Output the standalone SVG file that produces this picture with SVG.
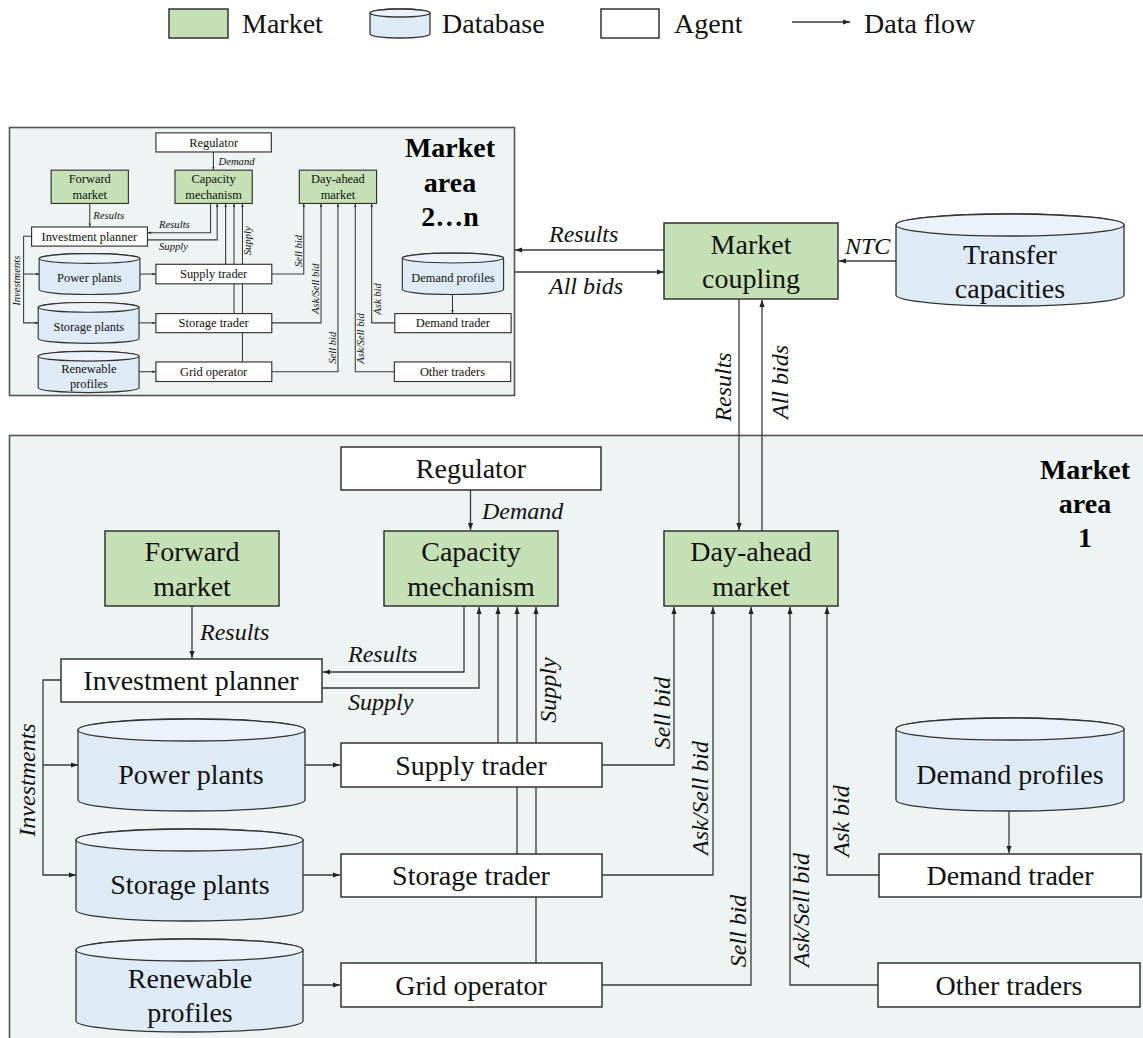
<svg xmlns="http://www.w3.org/2000/svg" xmlns:xlink="http://www.w3.org/1999/xlink" width="1143" height="1038" viewBox="0 0 1143 1038">
<style>
.box{fill:#fff;stroke:#333;stroke-width:var(--bw,1.5)}
.mkt{fill:#C5E0B4;stroke:#333;stroke-width:var(--bw,1.5)}
.db{fill:#DEEBF7;stroke:#333;stroke-width:var(--bw,1.3)}
.dbt{fill:#EBF2FA;stroke:#333;stroke-width:var(--bw,1.3)}
.ln{fill:none;stroke:#3a3a3a;stroke-width:var(--lw,1.3)}
.panel{fill:#EEF3F3;stroke:#555;stroke-width:1.6}
.t{font-family:"Liberation Serif","Times New Roman",serif;font-size:28px;fill:#111;text-anchor:middle}
.tl{font-family:"Liberation Serif","Times New Roman",serif;font-size:28px;fill:#111}
.lb{font-family:"Liberation Serif","Times New Roman",serif;font-size:24px;font-style:italic;fill:#111}
.lr{font-family:"Liberation Serif","Times New Roman",serif;font-size:24px;font-style:italic;fill:#111;text-anchor:middle}
.hd{font-family:"Liberation Serif","Times New Roman",serif;font-size:28px;font-weight:bold;fill:#000;text-anchor:middle}
</style>
<defs>
<marker id="ah" markerUnits="userSpaceOnUse" markerWidth="8" markerHeight="6" refX="7" refY="3" orient="auto">
<path d="M0,0.4 L7,3 L0,5.6 Z" fill="#222"/>
</marker>
</defs>

<g id="legend">
<rect class="mkt" x="169" y="9" width="59" height="29"/>
<text class="tl" x="242" y="33">Market</text>
<path class="db" d="M370,13 A30,4 0 0 1 430,13 V34 A30,4 0 0 1 370,34 Z"/>
<ellipse class="dbt" cx="400" cy="13" rx="30" ry="4"/>
<text class="tl" x="442" y="33">Database</text>
<rect class="box" x="601" y="9" width="58" height="29"/>
<text class="tl" x="674" y="33">Agent</text>
<path class="ln" d="M792,22 H850" marker-end="url(#ah)"/>
<text class="tl" x="864" y="33">Data flow</text>
</g>

<rect id="panel-2n" class="panel" x="9.5" y="127.5" width="505" height="268"/>
<rect id="panel-1" class="panel" x="9.5" y="435.5" width="1145" height="620"/>
<g id="label-2n"><text class="hd" x="450" y="157">Market</text><text class="hd" x="450" y="192">area</text><text class="hd" x="450" y="226">2…n</text></g>
<g id="label-1"><text class="hd" x="1085" y="479">Market</text><text class="hd" x="1085" y="513">area</text><text class="hd" x="1085" y="547">1</text></g>

<g id="connectors">
<path class="ln" d="M664,250 H515" marker-end="url(#ah)"/>
<path class="ln" d="M515,272 H664" marker-end="url(#ah)"/>
<path class="ln" d="M896,261 H839" marker-end="url(#ah)"/>
<path class="ln" d="M739,299 V530" marker-end="url(#ah)"/>
<path class="ln" d="M762,531 V300" marker-end="url(#ah)"/>
<text class="lb" x="549" y="242">Results</text>
<text class="lb" x="549" y="294">All bids</text>
<text class="lb" x="845" y="254">NTC</text>
<text class="lr" transform="translate(731,387) rotate(-90)">Results</text>
<text class="lr" transform="translate(788,382) rotate(-90)">All bids</text>
</g>

<g id="market-coupling"><rect class="mkt" x="664" y="223" width="174" height="76"/><text class="t" x="751" y="254">Market</text><text class="t" x="751" y="288">coupling</text></g>
<g id="transfer-capacities"><path class="db" d="M896,225 A114,11 0 0 1 1124,225 V295 A114,11 0 0 1 896,295 Z"/><ellipse class="dbt" cx="1010" cy="225" rx="114" ry="11"/><text class="t" x="1010" y="264">Transfer</text><text class="t" x="1010" y="298">capacities</text></g>

<g id="area">
<g id="area-connectors">
<path class="ln" d="M470.5,490 V530" marker-end="url(#ah)"/>
<path class="ln" d="M192,606 V658" marker-end="url(#ah)"/>
<path class="ln" d="M464,606 V672 H323" marker-end="url(#ah)"/>
<path class="ln" d="M322,688 H479 V607" marker-end="url(#ah)"/>
<path class="ln" d="M498,743 V607" marker-end="url(#ah)"/>
<path class="ln" d="M517,854 V607" marker-end="url(#ah)"/>
<path class="ln" d="M536,963 V607" marker-end="url(#ah)"/>
<path class="ln" d="M61,680 H43 V875 H76" marker-end="url(#ah)"/>
<path class="ln" d="M43,765 H78" marker-end="url(#ah)"/>
<path class="ln" d="M305,765 H340" marker-end="url(#ah)"/>
<path class="ln" d="M303,875 H340" marker-end="url(#ah)"/>
<path class="ln" d="M303,985 H340" marker-end="url(#ah)"/>
<path class="ln" d="M602,765 H674 V607" marker-end="url(#ah)"/>
<path class="ln" d="M602,875 H713 V607" marker-end="url(#ah)"/>
<path class="ln" d="M602,985 H751 V607" marker-end="url(#ah)"/>
<path class="ln" d="M878,985 H790 V607" marker-end="url(#ah)"/>
<path class="ln" d="M879,875 H827 V607" marker-end="url(#ah)"/>
<path class="ln" d="M1009,811 V853" marker-end="url(#ah)"/>
<text class="lb" x="482" y="519">Demand</text>
<text class="lb" x="200" y="640">Results</text>
<text class="lb" x="348" y="662">Results</text>
<text class="lb" x="348" y="710">Supply</text>
<text class="lr" transform="translate(35,780) rotate(-90)">Investments</text>
<text class="lr" transform="translate(556,690) rotate(-90)">Supply</text>
<text class="lr" transform="translate(670,713) rotate(-90)">Sell bid</text>
<text class="lr" transform="translate(708,798) rotate(-90)">Ask/Sell bid</text>
<text class="lr" transform="translate(746,931) rotate(-90)">Sell bid</text>
<text class="lr" transform="translate(809,910) rotate(-90)">Ask/Sell bid</text>
<text class="lr" transform="translate(849,821) rotate(-90)">Ask bid</text>
</g>
<g id="regulator"><rect class="box" x="341" y="447" width="260" height="43"/><text class="t" x="471" y="478">Regulator</text></g>
<g id="forward-market"><rect class="mkt" x="105" y="531" width="174" height="75"/><text class="t" x="192" y="561">Forward</text><text class="t" x="192" y="596">market</text></g>
<g id="capacity-mechanism"><rect class="mkt" x="384" y="531" width="174" height="75"/><text class="t" x="471" y="561">Capacity</text><text class="t" x="471" y="596">mechanism</text></g>
<g id="day-ahead-market"><rect class="mkt" x="664" y="531" width="174" height="75"/><text class="t" x="751" y="561">Day-ahead</text><text class="t" x="751" y="596">market</text></g>
<g id="investment-planner"><rect class="box" x="61" y="659" width="261" height="43"/><text class="t" x="191" y="690">Investment planner</text></g>
<g id="power-plants"><path class="db" d="M78,730 A113.5,11 0 0 1 305,730 V800 A113.5,11 0 0 1 78,800 Z"/><ellipse class="dbt" cx="191.5" cy="730" rx="113.5" ry="11"/><text class="t" x="191" y="784">Power plants</text></g>
<g id="storage-plants"><path class="db" d="M76,840 A113.5,11 0 0 1 303,840 V910 A113.5,11 0 0 1 76,910 Z"/><ellipse class="dbt" cx="189.5" cy="840" rx="113.5" ry="11"/><text class="t" x="190" y="894">Storage plants</text></g>
<g id="renewable-profiles"><path class="db" d="M76,950 A113.5,11 0 0 1 303,950 V1021 A113.5,11 0 0 1 76,1021 Z"/><ellipse class="dbt" cx="189.5" cy="950" rx="113.5" ry="11"/><text class="t" x="190" y="988">Renewable</text><text class="t" x="190" y="1022">profiles</text></g>
<g id="supply-trader"><rect class="box" x="341" y="743" width="261" height="44"/><text class="t" x="471" y="775">Supply trader</text></g>
<g id="storage-trader"><rect class="box" x="341" y="854" width="261" height="43"/><text class="t" x="471" y="885">Storage trader</text></g>
<g id="grid-operator"><rect class="box" x="341" y="963" width="261" height="44"/><text class="t" x="471" y="995">Grid operator</text></g>
<g id="demand-profiles"><path class="db" d="M896,729 A114,11 0 0 1 1124,729 V800 A114,11 0 0 1 896,800 Z"/><ellipse class="dbt" cx="1010" cy="729" rx="114" ry="11"/><text class="t" x="1010" y="784">Demand profiles</text></g>
<g id="demand-trader"><rect class="box" x="879" y="854" width="262" height="43"/><text class="t" x="1010" y="885">Demand trader</text></g>
<g id="other-traders"><rect class="box" x="878" y="963" width="262" height="44"/><text class="t" x="1009" y="995">Other traders</text></g>
</g>

<use id="area-2n" xlink:href="#area" href="#area" transform="translate(4.5,-65.6) scale(0.444)" style="--lw:2.4;--bw:2.6"/>
</svg>
